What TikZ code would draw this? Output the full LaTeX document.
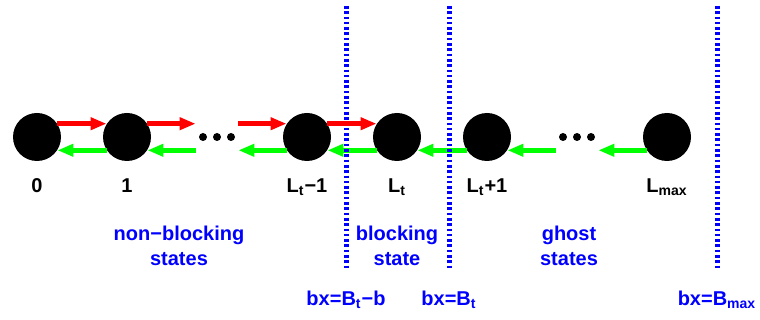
\documentclass[tikz,border=0pt]{standalone}
\usepackage{fontspec}
\setmainfont{Liberation Sans}
\usetikzlibrary{arrows.meta}

\tikzset{
  state/.style={circle,fill=black,minimum size=24pt,inner sep=0pt},
  gap/.style={inner sep=0pt,minimum width=21pt,minimum height=4pt},
  fwd/.style={red,line width=2.5pt,-{Triangle[length=8pt,width=6pt]}},
  bwd/.style={green,line width=2.5pt,-{Triangle[length=8pt,width=6pt]}},
  border/.style={blue,line width=2.5pt,dash pattern=on 1.3pt off 1.35pt},
  numlab/.style={anchor=base,font=\fontsize{10}{12}\selectfont\bfseries},
  zonelab/.style={align=center,text=blue,font=\fontsize{10}{12.5}\selectfont\bfseries},
  bxlab/.style={anchor=base,text=blue,font=\fontsize{10}{12}\selectfont\bfseries}
}

\begin{document}
\begin{tikzpicture}[x=0.5pt,y=-0.5pt]
\path[use as bounding box] (0,0) rectangle (760,320);

% states on the chain
\node[state] (s0) at (37,137) {};
\node[state] (s1) at (127,137) {};
\node[gap] (dA) at (217,137) {};
\node[state] (sLm) at (307,137) {};
\node[state] (sLt) at (397,137) {};
\node[state] (sLp) at (487,137) {};
\node[gap] (dB) at (577,137) {};
\node[state] (sMax) at (667,137) {};
\foreach \d in {dA,dB}{
  \foreach \k in {-1,0,1}{\fill ([xshift=\k*7pt]\d.center) circle (2pt);}
}

% labels under the states
\node[numlab] (n0) at ([yshift=-28pt]s0.center) {0};
\node[numlab] (n1) at ([yshift=-28pt]s1.center) {1};
\node[numlab] (nLm) at ([yshift=-28pt]sLm.center) {L\textsubscript{t}−1};
\node[numlab] (nLt) at ([yshift=-28pt]sLt.center) {L\textsubscript{t}};
\node[numlab] (nLp) at ([yshift=-28pt]sLp.center) {L\textsubscript{t}+1};
\node[numlab] (nMax) at ([yshift=-28pt]sMax.center) {L\textsubscript{max}};

% backward moves
\draw[bwd] (s1.213) -- (s0.327);
\draw[bwd] (s1.327 -| dA.west) -- (s1.327);
\draw[bwd] (sLm.213) -- (sLm.213 -| dA.east);
\draw[bwd] (sLt.213) -- (sLm.327);
\draw[bwd] (sLp.213) -- (sLt.327);
\draw[bwd] (sLp.327 -| dB.west) -- (sLp.327);
\draw[bwd] (sMax.213) -- (sMax.213 -| dB.east);

% zone borders
\foreach \name/\x/\txt in {bA/346/bx=B\textsubscript{t}−b,bB/449/bx=B\textsubscript{t},bC/717/bx=B\textsubscript{max}}{
  \coordinate (\name top) at (\x,6);
  \coordinate (\name bot) at (\x,269);
  \draw[border] (\name top) -- (\name bot);
  \node[bxlab] (\name lab) at (\x,306) {\txt};
}

% forward moves
\draw[fwd] (s0.33) -- (s1.147);
\draw[fwd] (s1.33) -- (s1.33 -| dA.west);
\draw[fwd] (sLm.147 -| dA.east) -- (sLm.147);
\draw[fwd] (sLm.33) -- (sLt.147);

% zone names
\node[zonelab] (zNon) at (179,246) {non−blocking\\states};
\node[zonelab] (zBlk) at (397,246) {blocking\\state};
\node[zonelab] (zGho) at (569,246) {ghost\\states};
\end{tikzpicture}
\end{document}
